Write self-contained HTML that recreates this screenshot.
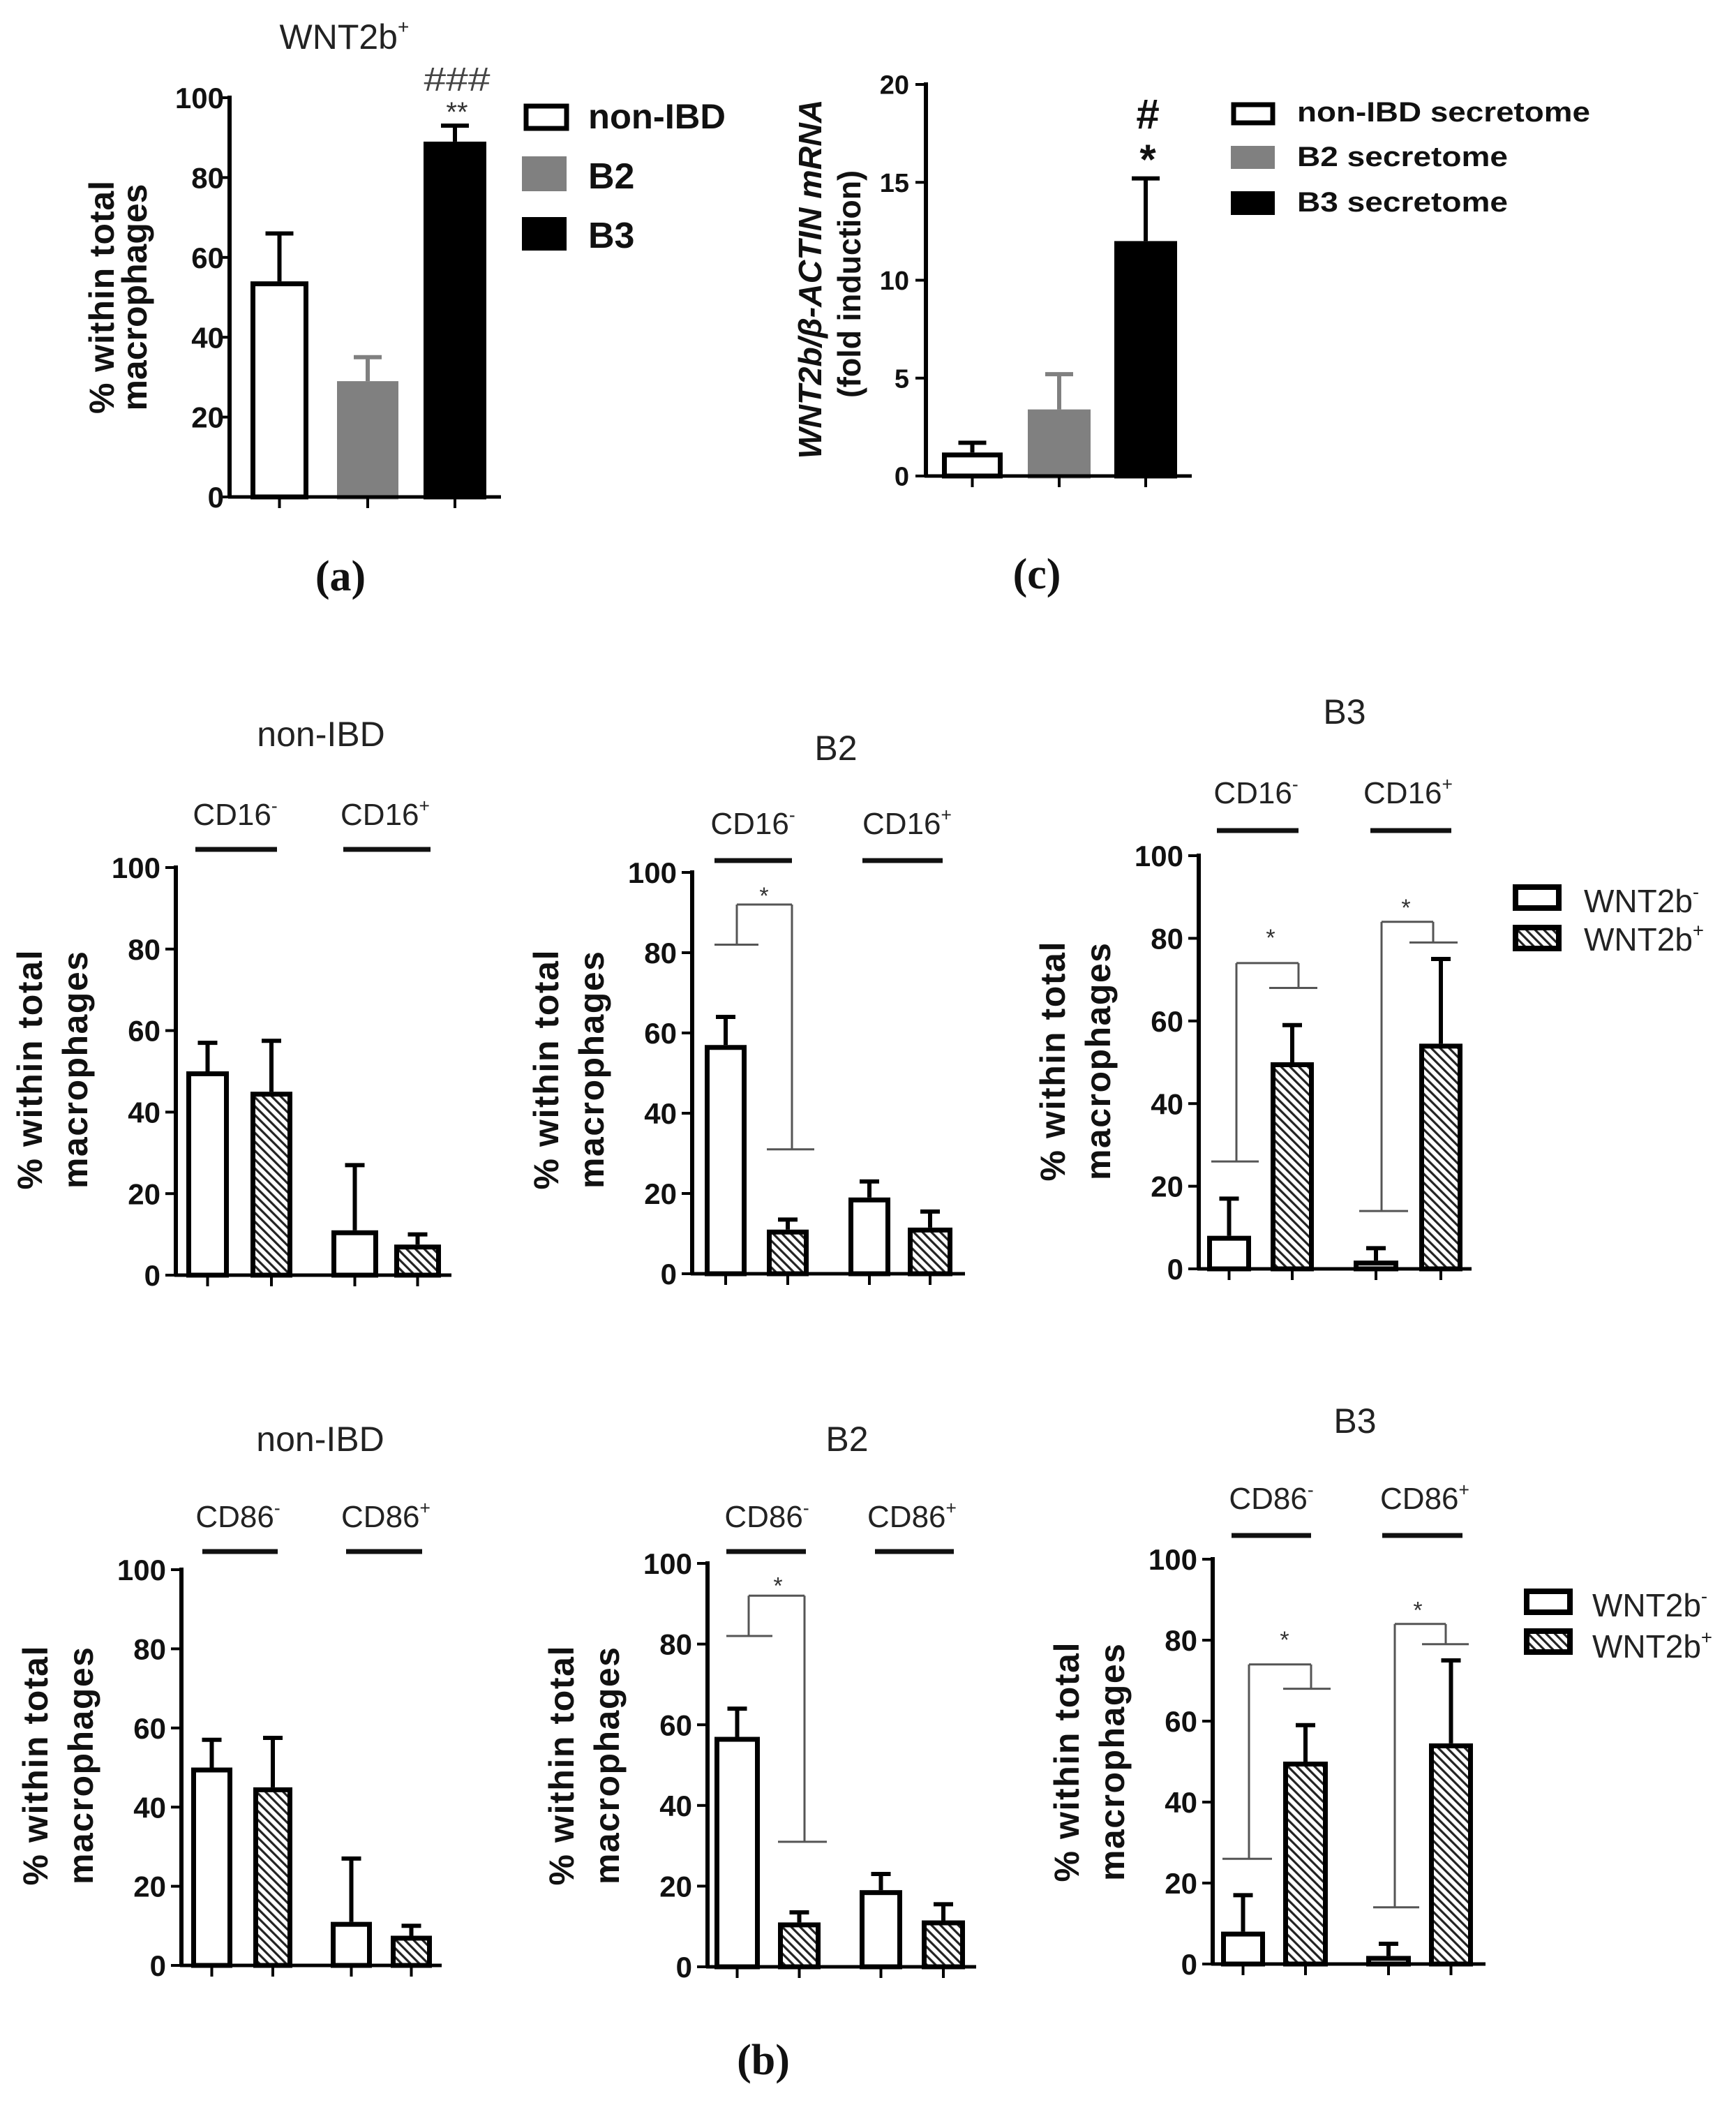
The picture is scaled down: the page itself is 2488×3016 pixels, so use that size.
<!DOCTYPE html>
<html><head><meta charset="utf-8"><style>
html,body{margin:0;padding:0;background:#fff;width:2488px;height:3016px;overflow:hidden}
svg{display:block}
text{font-family:"Liberation Sans",sans-serif}
</style></head><body>
<svg id="s" width="2488" height="3016" viewBox="0 0 2488 3016" xmlns="http://www.w3.org/2000/svg">
<defs>
<pattern id="h" patternUnits="userSpaceOnUse" width="9" height="9" patternTransform="rotate(-45)">
<rect width="9" height="9" fill="#fff"/><rect x="0" y="0" width="3.2" height="9" fill="#222"/>
</pattern>
</defs>
<g id="g"></g>
</svg>
<script>
var G=document.getElementById('g'),NS='http://www.w3.org/2000/svg';
function el(t,a,txt){var e=document.createElementNS(NS,t);for(var k in a)e.setAttribute(k,a[k]);if(txt!==undefined)e.textContent=txt;G.appendChild(e);return e;}
function L(x1,y1,x2,y2,w,c){el('line',{x1:x1,y1:y1,x2:x2,y2:y2,stroke:c||'#000','stroke-width':w||5});}
function T(x,y,s,a){var o={x:x,y:y};for(var k in a)o[k]=a[k];return el('text',o,s);}
function sup(x,y,base,sp,fs,anchor){var t=el('text',{x:x,y:y,'font-size':fs,'text-anchor':anchor||'middle',fill:'#222'});
 var a=document.createElementNS(NS,'tspan');a.textContent=base;t.appendChild(a);
 var b=document.createElementNS(NS,'tspan');b.textContent=sp;b.setAttribute('font-size',fs*0.6);b.setAttribute('dy',-fs*0.42);t.appendChild(b);return t;}
function panel(o){
 var yv=function(v){return o.y0-(o.y0-o.yT)*v/o.vmax;};
 var fs=o.fs||42;
 for(var v=0;v<=o.vmax;v+=o.step){var y=yv(v);L(o.ax-15,y,o.ax,y,4);
  T(o.lr,y+fs*0.36,String(v),{'font-size':fs,'font-weight':'bold','text-anchor':'end',fill:'#111'});}
 o.bars.forEach(function(b){
  var cx=(b[0]+b[1])/2,fill=b[4]||'#fff',sc=(fill=='#808080')?'#808080':'#000';
  var yt=yv(b[2]);
  L(cx,yt,cx,yv(b[3]),6,sc);L(cx-o.cap,yv(b[3]),cx+o.cap,yv(b[3]),6,sc);
  el('rect',{x:b[0]+3.5,y:yt+3.5,width:b[1]-b[0]-7,height:o.y0-yt-3.5,fill:fill,stroke:sc,'stroke-width':7});
  L(cx,o.y0,cx,o.y0+16,4);
 });
 L(o.ax,o.yT-3,o.ax,o.y0+2,6);L(o.ax-2,o.y0,o.end,o.y0,5);
}
function ylab(b1,b2,cy,fs,l1,l2){
 T(b1,cy,'% within total',{'font-size':fs,'font-weight':'bold','text-anchor':'middle',transform:'rotate(-90 '+b1+' '+cy+')',textLength:l1,lengthAdjust:'spacing',fill:'#111'});
 T(b2,cy,'macrophages',{'font-size':fs,'font-weight':'bold','text-anchor':'middle',transform:'rotate(-90 '+b2+' '+cy+')',textLength:l2,lengthAdjust:'spacing',fill:'#111'});
}
function bracket(segs,c){segs.forEach(function(s){L(s[0],s[1],s[2],s[3],3,c||'#555');});}
/* ---------- panel a ---------- */
T(570,70,'WNT2b',{'font-size':50,'text-anchor':'end',fill:'#222'});
T(570,48,'+',{'font-size':28,fill:'#222'});
panel({ax:329,y0:712,yT:140,vmax:100,step:20,end:718,lr:321,cap:20,fs:42,
 bars:[[359,442,54,66],[483,571,29,35,'#808080'],[607,697,89,93,'#000']]});
ylab(163,210,426,50,334,325);
T(655,130,'###',{'font-size':48,'text-anchor':'middle',fill:'#444',textLength:95,lengthAdjust:'spacingAndGlyphs'});
T(655,174,'**',{'font-size':40,'text-anchor':'middle',fill:'#333'});
el('rect',{x:754,y:152,width:58,height:32,fill:'#fff',stroke:'#000','stroke-width':7});
el('rect',{x:748,y:224,width:64,height:50,fill:'#808080'});
el('rect',{x:748,y:311,width:64,height:48,fill:'#000'});
T(843,184,'non-IBD',{'font-size':50,'font-weight':'bold',fill:'#111',textLength:197,lengthAdjust:'spacingAndGlyphs'});
T(843,270,'B2',{'font-size':52,'font-weight':'bold',fill:'#111'});
T(843,355,'B3',{'font-size':52,'font-weight':'bold',fill:'#111'});
T(488,846,'(a)',{'font-size':62,'font-weight':'bold','text-anchor':'middle',style:'font-family:"Liberation Serif",serif',fill:'#111'});
/* ---------- panel c ---------- */
panel({ax:1327,y0:682,yT:121,vmax:20,step:5,end:1708,lr:1303,cap:20,fs:38,
 bars:[[1350,1437,1.2,1.7],[1473,1563,3.4,5.2,'#808080'],[1597,1687,12,15.2,'#000']]});
T(1177,400,'WNT2b/β-ACTIN mRNA',{'font-size':46,'font-weight':'bold','font-style':'italic','text-anchor':'middle',transform:'rotate(-90 1177 400)',textLength:515,lengthAdjust:'spacingAndGlyphs',fill:'#111'});
T(1233,407,'(fold induction)',{'font-size':46,'font-weight':'bold','text-anchor':'middle',transform:'rotate(-90 1233 407)',textLength:326,lengthAdjust:'spacingAndGlyphs',fill:'#111'});
T(1645,184,'#',{'font-size':60,'font-weight':'bold','text-anchor':'middle',fill:'#111'});
T(1645,249,'*',{'font-size':60,'font-weight':'bold','text-anchor':'middle',fill:'#111'});
el('rect',{x:1768,y:150,width:56,height:26,fill:'#fff',stroke:'#000','stroke-width':7});
el('rect',{x:1764,y:209,width:63,height:33,fill:'#808080'});
el('rect',{x:1764,y:274,width:63,height:34,fill:'#000'});
T(1859,174,'non-IBD secretome',{'font-size':40,'font-weight':'bold',fill:'#111',textLength:420,lengthAdjust:'spacingAndGlyphs'});
T(1859,238,'B2 secretome',{'font-size':40,'font-weight':'bold',fill:'#111',textLength:302,lengthAdjust:'spacingAndGlyphs'});
T(1859,303,'B3 secretome',{'font-size':40,'font-weight':'bold',fill:'#111',textLength:302,lengthAdjust:'spacingAndGlyphs'});
T(1486,843,'(c)',{'font-size':62,'font-weight':'bold','text-anchor':'middle',style:'font-family:"Liberation Serif",serif',fill:'#111'});
/* ---------- panel b ---------- */
function bpanel(p){
 T(p.tx,p.ty,p.title,{'font-size':50,'text-anchor':'middle',fill:'#222'});
 sup(p.c1,p.cy,p.cd,'-',44);sup(p.c2,p.cy,p.cd,'+',44);
 L(p.l1[0],p.ly,p.l1[1],p.ly,7,'#111');L(p.l2[0],p.ly,p.l2[1],p.ly,7,'#111');
 var b=p.bars,v=[[50,57],[45,57.5],[11,27],[7.5,10]];
 if(p.v)v=p.v;
 panel({ax:p.ax,y0:p.y0,yT:p.yT,vmax:100,step:20,end:p.end,lr:p.ax-22,cap:14,fs:42,
  bars:[[b[0],b[1],v[0][0],v[0][1]],[b[2],b[3],v[1][0],v[1][1],'url(#h)'],[b[4],b[5],v[2][0],v[2][1]],[b[6],b[7],v[3][0],v[3][1],'url(#h)']]});
 ylab(p.ax-192,p.ax-127,p.ly2,50,343,340);
}
var vB2=[[57,64],[11,13.5],[19,23],[11.5,15.5]],vB3=[[8,17],[50,59],[2,5],[54.5,75]];
bpanel({title:'non-IBD',tx:460,ty:1069,cd:'CD16',c1:337,c2:552,cy:1182,l1:[280,397],l2:[492,617],ly:1217,
 ax:252,y0:1827,yT:1243,end:647,bars:[267,328,359,419,475,542,565,632],ly2:1533});
bpanel({title:'B2',tx:1198,ty:1089,cd:'CD16',c1:1079,c2:1300,cy:1195,l1:[1024,1135],l2:[1236,1351],ly:1233,
 ax:992,y0:1825,yT:1250,end:1383,bars:[1010,1070,1099,1159,1216,1276,1301,1365],v:vB2,ly2:1533});
bpanel({title:'B3',tx:1927,ty:1037,cd:'CD16',c1:1800,c2:2018,cy:1151,l1:[1744,1861],l2:[1964,2080],ly:1190,
 ax:1718,y0:1818,yT:1226,end:2109,bars:[1730,1793,1821,1883,1940,2004,2034,2096],v:vB3,ly2:1521});
bpanel({title:'non-IBD',tx:459,ty:2079,cd:'CD86',c1:341,c2:553,cy:2188,l1:[290,398],l2:[496,605],ly:2223,
 ax:260,y0:2816,yT:2249,end:633,bars:[274,333,363,419,474,533,560,619],ly2:2530});
bpanel({title:'B2',tx:1214,ty:2079,cd:'CD86',c1:1099,c2:1307,cy:2188,l1:[1041,1155],l2:[1254,1367],ly:2223,
 ax:1014,y0:2818,yT:2240,end:1399,bars:[1024,1089,1115,1176,1232,1293,1321,1383],v:vB2,ly2:2530});
bpanel({title:'B3',tx:1942,ty:2053,cd:'CD86',c1:1822,c2:2042,cy:2162,l1:[1765,1879],l2:[1981,2096],ly:2200,
 ax:1738,y0:2814,yT:2234,end:2129,bars:[1750,1813,1839,1903,1958,2022,2048,2111],v:vB3,ly2:2525});
function Y(y0,yT,v){return y0-(y0-yT)*v/100;}
function star(x,cy){T(x,cy+19,'*',{'font-size':34,'text-anchor':'middle',fill:'#333'});}
(function(){var y=function(v){return Y(1825,1250,v);};
 bracket([[1024,y(82),1087,y(82)],[1056,y(82),1056,y(92)],[1056,y(92),1135,y(92)],[1135,y(92),1135,y(31)],[1099,y(31),1167,y(31)]]);
 star(1095,y(95.5));})();
(function(){var y=function(v){return Y(2818,2240,v);};
 bracket([[1041,y(82),1107,y(82)],[1073,y(82),1073,y(92)],[1073,y(92),1153,y(92)],[1153,y(92),1153,y(31)],[1115,y(31),1185,y(31)]]);
 star(1115,y(95.8));})();
(function(){var y=function(v){return Y(1818,1226,v);};
 bracket([[1736,y(26),1804,y(26)],[1772,y(26),1772,y(74)],[1772,y(74),1861,y(74)],[1861,y(74),1861,y(68)],[1819,y(68),1888,y(68)]]);
 star(1821,y(81.4));
 bracket([[1948,y(14),2018,y(14)],[1980,y(14),1980,y(84)],[1980,y(84),2054,y(84)],[2054,y(84),2054,y(79)],[2020,y(79),2089,y(79)]]);
 star(2015,y(88.7));})();
(function(){var y=function(v){return Y(2814,2234,v);};
 bracket([[1752,y(26),1823,y(26)],[1790,y(26),1790,y(74)],[1790,y(74),1879,y(74)],[1879,y(74),1879,y(68)],[1839,y(68),1907,y(68)]]);
 star(1841,y(81.4));
 bracket([[1968,y(14),2034,y(14)],[1999,y(14),1999,y(84)],[1999,y(84),2072,y(84)],[2072,y(84),2072,y(79)],[2038,y(79),2105,y(79)]]);
 star(2032,y(88.7));})();
function bleg(x,y1,y2,tx,b1,b2){
 el('rect',{x:x+4,y:y1+4,width:62,height:30,fill:'#fff',stroke:'#000','stroke-width':8});
 el('rect',{x:x+4,y:y2+4,width:62,height:30,fill:'url(#h)',stroke:'#000','stroke-width':8});
 sup(tx,b1,'WNT2b','-',46,'start');sup(tx,b2,'WNT2b','+',46,'start');
}
bleg(2168,1267,1325,2270,1307,1362);
bleg(2184,2276,2333,2282,2316,2375);
T(1094,2972,'(b)',{'font-size':62,'font-weight':'bold','text-anchor':'middle',style:'font-family:"Liberation Serif",serif',fill:'#111'});
</script>
</body></html>
